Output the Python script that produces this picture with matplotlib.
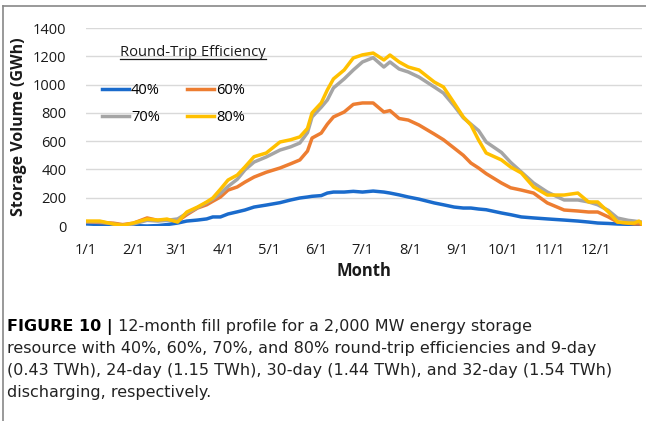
import matplotlib
matplotlib.use("Agg")
import matplotlib.pyplot as plt
from matplotlib.lines import Line2D

# ---- data (day of year, GWh) ----
days = [0, 9, 18, 24, 31, 40, 47, 53, 60, 66, 73, 79, 83, 88, 93, 99, 104, 110,
        118, 127, 134, 140, 145, 148, 154, 158, 162, 169, 175, 181, 188, 195,
        199, 205, 211, 218, 228, 234, 241, 247, 252, 257, 262, 272, 278, 285,
        293, 302, 313, 322, 329, 335, 342, 348, 355, 359, 362, 364]

eff40 = [15, 10, 7, 5, 3, 0, 3, 10, 21, 35, 42, 50, 64, 64, 85, 100, 113, 134,
         148, 165, 184, 198, 205, 210, 215, 233, 240, 240, 245, 240, 247, 240,
         233, 220, 205, 190, 163, 150, 134, 127, 127, 120, 115, 92, 80, 64,
         57, 50, 42, 35, 28, 21, 18, 14, 12, 10, 10, 8]

eff60 = [30, 25, 20, 10, 20, 57, 40, 45, 35, 80, 127, 150, 175, 205, 254, 276,
         310, 346, 380, 410, 440, 467, 530, 622, 657, 720, 771, 806, 860, 870,
         870, 806, 816, 760, 749, 714, 650, 610, 551, 500, 445, 410, 370, 304,
         270, 254, 233, 163, 113, 106, 99, 99, 64, 28, 20, 15, 15, 10]

eff70 = [30, 30, 14, 5, 14, 40, 35, 40, 50, 90, 130, 165, 190, 230, 280, 330,
         396, 452, 488, 537, 560, 587, 660, 771, 840, 891, 976, 1040, 1103,
         1160, 1190, 1124, 1160, 1110, 1089, 1053, 983, 940, 850, 765, 720,
         675, 594, 520, 450, 382, 304, 240, 184, 184, 170, 150, 110, 56, 40,
         35, 30, 28]

eff80 = [35, 35, 14, 5, 21, 49, 42, 49, 28, 99, 134, 170, 198, 260, 325, 360,
         417, 490, 516, 594, 610, 630, 690, 800, 870, 962, 1040, 1103, 1188,
         1210, 1223, 1174, 1209, 1160, 1124, 1103, 1018, 983, 870, 771, 714,
         608, 516, 467, 417, 375, 276, 219, 219, 233, 170, 170, 99, 28, 21,
         21, 35, 14]

series_labels = ["40%", "60%", "70%", "80%"]
series_colors = ["#1a6bcc", "#ED7D31", "#A5A5A5", "#FFC000"]

month_days = [0, 31, 59, 90, 120, 151, 181, 212, 243, 273, 304, 334]
month_labels = ["1/1", "2/1", "3/1", "4/1", "5/1", "6/1", "7/1", "8/1",
                "9/1", "10/1", "11/1", "12/1"]
y_ticks = [0, 200, 400, 600, 800, 1000, 1200, 1400]

caption_bold = "FIGURE 10 |"
caption_lines = [
    " 12-month fill profile for a 2,000 MW energy storage",
    "resource with 40%, 60%, 70%, and 80% round-trip efficiencies and 9-day",
    "(0.43 TWh), 24-day (1.15 TWh), 30-day (1.44 TWh), and 32-day (1.54 TWh)",
    "discharging, respectively.",
]

# ---- figure ----
W, H = 646, 421
fig = plt.figure(figsize=(W / 100, H / 100), dpi=100)
fig.patch.set_facecolor("white")

ax = fig.add_axes([86 / W, 1 - 226 / H, (642 - 86) / W, (226 - 28) / H])
ax.set_facecolor("white")

lines = []
for vals, lab, col in zip([eff40, eff60, eff70, eff80], series_labels, series_colors):
    ln, = ax.plot(days, vals, color=col, lw=2.5, label=lab, solid_joinstyle="round")
    lines.append(ln)

ax.set_xlim(0, 364)
ax.set_ylim(0, 1400)
ax.set_yticks(y_ticks)
ax.set_xticks(month_days)
ax.set_xticklabels(month_labels)
ax.grid(axis="y", color="#d9d9d9", lw=1.0)
ax.set_axisbelow(True)
for s in ax.spines.values():
    s.set_visible(False)
ax.tick_params(length=0, labelsize=10.5, labelcolor="#1a1a1a")
ax.tick_params(axis="x", pad=12)
ax.tick_params(axis="y", pad=14)
for t in ax.get_xticklabels() + ax.get_yticklabels():
    t.set_family("Open Sans")

ax.set_ylabel("Storage Volume (GWh)", fontsize=11.5, fontweight="bold",
              family="Open Sans", labelpad=4, color="#1a1a1a")
ax.set_xlabel("Month", fontsize=12, fontweight="bold", family="Open Sans",
              labelpad=3, color="#1a1a1a")

# legend: row 1 = 40%, 60%; row 2 = 70%, 80% (column-major fill)
order = [0, 2, 1, 3]
leg = ax.legend([lines[i] for i in order], [series_labels[i] for i in order],
                ncol=2, loc="upper left", bbox_to_anchor=(0.006, 0.79),
                frameon=False, handlelength=1.8, handletextpad=0.15,
                columnspacing=1.9, labelspacing=0.85,
                prop={"family": "Open Sans", "size": 10.5})
for h in leg.legend_handles:
    h.set_linewidth(2.5)

title = ax.text(0.061, 0.84, "Round-Trip Efficiency", transform=ax.transAxes,
                fontsize=10.6, family="Open Sans", color="#1a1a1a", va="bottom")
fig.canvas.draw()
bb = title.get_window_extent()
fig.add_artist(Line2D([bb.x0 / W, bb.x1 / W], [(bb.y0 + 1) / H, (bb.y0 + 1) / H],
                      color="#1a1a1a", lw=0.9))

# caption
cap_font = "DejaVu Sans"
cap_size = 11.5
cap_y = [327, 349, 371, 393]
tb = fig.text(7 / W, 1 - cap_y[0] / H, caption_bold, fontsize=cap_size,
              fontweight="bold", family=cap_font, va="center")
fig.canvas.draw()
bbx = tb.get_window_extent()
fig.text(bbx.x1 / W, 1 - cap_y[0] / H, caption_lines[0], fontsize=cap_size,
         family=cap_font, va="center", color="#222222")
for yy, line in zip(cap_y[1:], caption_lines[1:]):
    fig.text(7 / W, 1 - yy / H, line, fontsize=cap_size, family=cap_font,
             va="center", color="#222222")

# border (top and left)
fig.add_artist(Line2D([3 / W, 1.0], [1 - 6 / H, 1 - 6 / H], color="#888888", lw=1.2))
fig.add_artist(Line2D([3 / W, 3 / W], [0, 1 - 6 / H], color="#888888", lw=1.2))

fig.savefig("out.png", dpi=100)
